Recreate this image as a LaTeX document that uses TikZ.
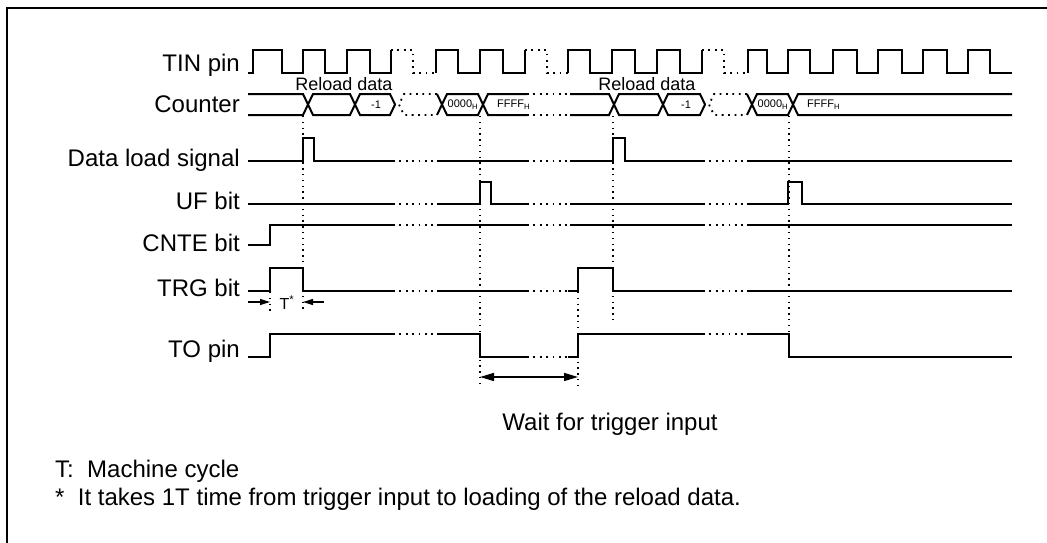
\documentclass[tikz,border=0pt]{standalone}
\usepackage{xcolor}
\usepackage{fontspec}
\setmainfont{Liberation Sans}
\usepackage{tikz}
\usetikzlibrary{arrows.meta}

\tikzset{
  sig/.style={line width=2pt, line join=miter},
  gapline/.style={line width=1.8pt, dash pattern=on 1.8pt off 4.6pt},
  guide/.style={line width=1.4pt, dash pattern=on 1.4pt off 4.4pt},
  lbl/.style={anchor=base east, inner sep=0pt, font=\fontsize{24}{28}\selectfont},
  busval/.style={inner sep=0pt, font=\fontsize{11}{11}\selectfont},
  note/.style={anchor=base west, inner sep=0pt, font=\fontsize{24}{28}\selectfont}
}

\begin{document}
\begin{tikzpicture}[x=1pt, y=-1pt]
\useasboundingbox (0,0) rectangle (1047,543);
\draw[line width=2.5pt] (7,543) -- (7,8) -- (1047,8);

% labels
\node[lbl] (tin) at (240,72) {TIN pin};
\node[lbl] (cnt) at (240,112) {Counter};
\node[lbl] (dls) at (240,166) {Data load signal};
\node[lbl] (uf) at (240,209) {UF bit};
\node[lbl] (cnte) at (240,251) {CNTE bit};
\node[lbl] (trg) at (240,296) {TRG bit};
\node[lbl] (to) at (240,357) {TO pin};

% TIN pin
\draw[sig] (248,73) -- (253,73) -- (253,50) -- (282,50) -- (282,73) -- (303,73) -- (303,50) -- (325,50) -- (325,73) -- (347,73) -- (347,50) -- (370,50) -- (370,73) -- (391,73) -- (391,50);
\draw[gapline] (391,50) -- (413,50) -- (413,73) -- (436,73);
\draw[sig] (436,73) -- (436,50) -- (458,50) -- (458,73) -- (480,73) -- (480,50) -- (503,50) -- (503,73) -- (525,73) -- (525,50);
\draw[gapline] (525,50) -- (547,50) -- (547,73) -- (568,73);
\draw[sig] (568,73) -- (568,50) -- (590,50) -- (590,73) -- (612,73) -- (612,50) -- (635,50) -- (635,73) -- (657,73) -- (657,50) -- (680,50) -- (680,73) -- (702,73) -- (702,50);
\draw[gapline] (702,50) -- (724,50) -- (724,73) -- (748,73);
\draw[sig] (748,73) -- (748,50) -- (767,50) -- (767,73) -- (788,73) -- (788,50) -- (810,50) -- (810,73) -- (833,73) -- (833,50) -- (857,50) -- (857,73) -- (878,73) -- (878,50) -- (902,50) -- (902,73) -- (923,73) -- (923,50) -- (947,50) -- (947,73) -- (968,73) -- (968,50) -- (990,50) -- (990,73) -- (1012,73);

% Counter
\node[anchor=base, inner sep=0pt, font=\fontsize{18}{20}\selectfont] (rl1) at (344,90) {Reload data};
\node[anchor=base, inner sep=0pt, font=\fontsize{18}{20}\selectfont] (rl2) at (647,90) {Reload data};
\draw[sig] (248,94) -- (303,94) -- (313,115) -- (350,115) -- (360,94) -- (390,94) -- (395,104.5) -- (390,115) -- (360,115) -- (350,94) -- (313,94) -- (303,115) -- (248,115);
\draw[gapline] (437,94) -- (404,94) -- (399,104.5) -- (404,115) -- (437,115);
\draw[sig] (437,94) -- (447,115) -- (478,115) -- (488,94) -- (527,94);
\draw[sig] (437,115) -- (447,94) -- (478,94) -- (488,115) -- (527,115);
\draw[gapline] (527,94) -- (570,94);
\draw[gapline] (527,115) -- (570,115);
\draw[sig] (570,94) -- (609,94) -- (619,115) -- (658,115) -- (668,94) -- (700,94) -- (705,104.5) -- (700,115) -- (668,115) -- (658,94) -- (619,94) -- (609,115) -- (570,115);
\draw[gapline] (747,94) -- (714,94) -- (709,104.5) -- (714,115) -- (747,115);
\draw[sig] (747,94) -- (757,115) -- (788,115) -- (798,94) -- (1012,94);
\draw[sig] (747,115) -- (757,94) -- (788,94) -- (798,115) -- (1012,115);
\node[busval] (m1a) at (376,104.5) {-1};
\node[busval] (z1a) at (463,104.5) {0000\textsubscript{H}};
\node[busval, anchor=west] (f1a) at (497,104.5) {FFFF\textsubscript{H}};
\node[busval] (m1b) at (686,104.5) {-1};
\node[busval] (z1b) at (773,104.5) {0000\textsubscript{H}};
\node[busval, anchor=west] (f1b) at (807,104.5) {FFFF\textsubscript{H}};

% Data load signal
\draw[sig] (248,161) -- (303,161) -- (303,138) -- (314,138) -- (314,161) -- (393,161);
\draw[gapline] (393,161) -- (437,161);
\draw[sig] (437,161) -- (527,161);
\draw[gapline] (527,161) -- (570,161);
\draw[sig] (570,161) -- (613,161) -- (613,138) -- (625,138) -- (625,161) -- (703,161);
\draw[gapline] (703,161) -- (747,161);
\draw[sig] (747,161) -- (1012,161);

% UF bit
\draw[sig] (248,204) -- (393,204);
\draw[gapline] (393,204) -- (437,204);
\draw[sig] (437,204) -- (480,204) -- (480,182) -- (491,182) -- (491,204) -- (527,204);
\draw[gapline] (527,204) -- (570,204);
\draw[sig] (570,204) -- (703,204);
\draw[gapline] (703,204) -- (747,204);
\draw[sig] (747,204) -- (788,204) -- (788,182) -- (802,182) -- (802,204) -- (1012,204);

% CNTE bit
\draw[sig] (248,245) -- (270,245) -- (270,225) -- (393,225);
\draw[gapline] (393,225) -- (437,225);
\draw[sig] (437,225) -- (527,225);
\draw[gapline] (527,225) -- (570,225);
\draw[sig] (570,225) -- (703,225);
\draw[gapline] (703,225) -- (747,225);
\draw[sig] (747,225) -- (1012,225);

% TRG bit
\draw[sig] (248,291) -- (270,291) -- (270,268) -- (303,268) -- (303,291) -- (393,291);
\draw[gapline] (393,291) -- (437,291);
\draw[sig] (437,291) -- (527,291);
\draw[gapline] (527,291) -- (568,291);
\draw[sig] (568,291) -- (578,291) -- (578,268) -- (613,268) -- (613,291) -- (703,291);
\draw[gapline] (703,291) -- (747,291);
\draw[sig] (747,291) -- (1012,291);

% TO pin
\draw[sig] (248,357) -- (270,357) -- (270,334) -- (393,334);
\draw[gapline] (393,334) -- (437,334);
\draw[sig] (437,334) -- (480,334) -- (480,357) -- (527,357);
\draw[gapline] (527,357) -- (568,357);
\draw[sig] (568,357) -- (578,357) -- (578,334) -- (703,334);
\draw[gapline] (703,334) -- (747,334);
\draw[sig] (747,334) -- (789,334) -- (789,357) -- (1012,357);

% timing guides
\draw[guide] (303,116) -- (303,313);
\draw[guide] (270,292) -- (270,312);
\draw[guide] (480,116) -- (480,386);
\draw[guide] (578,292) -- (578,386);
\draw[guide] (613,116) -- (613,323);
\draw[guide] (789,116) -- (789,357);

% 1T marker
\coordinate (ta) at (248,302);
\coordinate (tb) at (270,302);
\coordinate (tc) at (324,302);
\coordinate (td) at (303,302);
\draw[-{Triangle[length=10pt,width=6pt]}, line width=1.5pt] (ta) -- (tb);
\draw[-{Triangle[length=10pt,width=6pt]}, line width=1.5pt] (tc) -- (td);
\node[inner sep=0pt, font=\fontsize{16}{16}\selectfont] (tstar) at (287,303) {T\textsuperscript{*}};

% wait interval
\coordinate (wa) at (480,377);
\coordinate (wb) at (578,377);
\draw[{Triangle[length=14pt,width=8pt]}-{Triangle[length=14pt,width=8pt]}, line width=1.5pt] (wa) -- (wb);
\node[anchor=base, inner sep=0pt, font=\fontsize{24}{28}\selectfont] (wait) at (610,430) {Wait for trigger input};

% notes
\node[note] (n1) at (55,477) {T:\ \ Machine cycle};
\node[note] (n2) at (55,505) {*\ \ It takes 1T time from trigger input to loading of the reload data.};
\end{tikzpicture}
\end{document}
